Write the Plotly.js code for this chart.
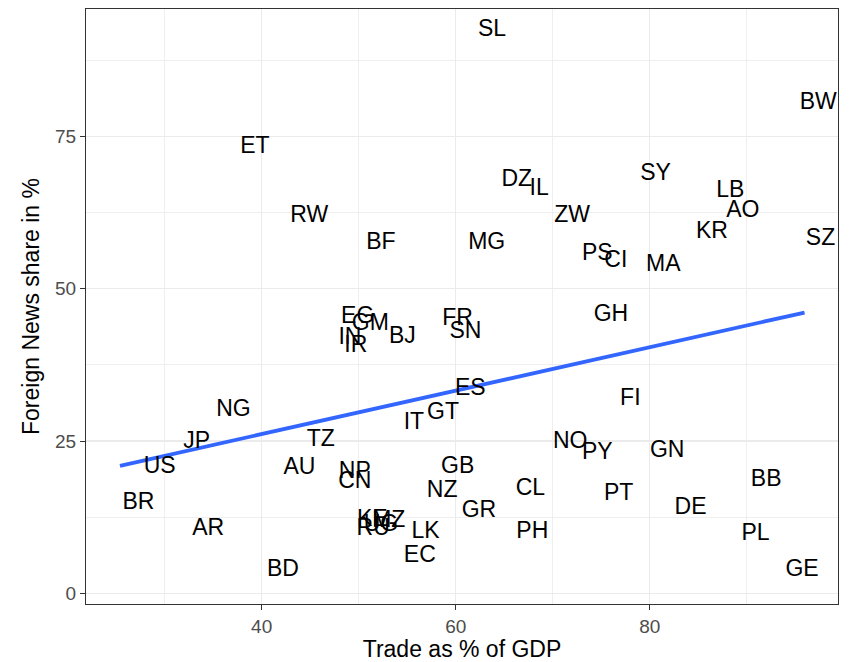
<!DOCTYPE html>
<html>
<head>
<meta charset="utf-8">
<script src="https://cdn.plot.ly/plotly-3.0.1.min.js"></script>
<style>html,body{margin:0;padding:0;background:#fff;}#chart{width:851px;height:662px;}</style>
</head>
<body>
<div id="chart"></div>
<script>
const countries = ["SL","BW","ET","DZ","IL","SY","LB","AO","RW","ZW","KR","SZ","BF","MG","PS","CI","MA","GH","EG","GM","IN","IR","BJ","FR","SN","ES","IT","GT","NG","JP","TZ","US","NO","PY","GN","FI","AU","NP","CN","GB","NZ","CL","PT","BB","BR","DE","GR","AR","KE","RU","UG","MZ","LK","PH","PL","EC","BD","GE"];
const tradePct = [63.75,97.36,39.3,66.3,68.6,80.6,88.3,89.6,44.9,72.0,86.4,97.6,52.3,63.2,74.6,76.5,81.4,76.0,49.9,51.2,49.1,49.7,54.5,60.2,61.0,61.5,55.7,58.7,37.1,33.3,46.1,29.5,71.8,74.6,81.8,78.0,43.9,49.6,49.6,60.2,58.6,67.7,76.8,92.0,27.3,84.2,62.4,34.5,51.4,51.5,52.3,53.1,56.9,67.9,90.9,56.3,42.2,95.7];
const foreignNewsPct = [92.4,80.4,73.2,67.8,66.3,68.8,66.0,62.7,61.9,61.9,59.3,58.1,57.4,57.4,55.6,54.5,53.8,45.6,45.3,44.2,41.9,40.6,42.0,45.0,42.9,33.5,28.0,29.6,30.1,24.8,25.2,20.7,24.8,23.0,23.4,31.9,20.6,19.9,18.3,20.7,16.8,17.1,16.3,18.6,14.8,14.0,13.5,10.6,12.0,10.6,11.2,11.9,10.1,10.1,9.8,6.1,3.8,3.8];
const fitX = [25.4, 95.95];
const fitY = [20.95, 46.1];
const xTicks = [40, 60, 80];
const yTicks = [0, 25, 50, 75];

const FONT = "Liberation Sans, Arial, Helvetica, sans-serif";

const traces = [
  {
    type: "scatter", mode: "lines", x: fitX, y: fitY,
    line: {color: "#3366FF", width: 3.8}, hoverinfo: "skip", showlegend: false
  },
  {
    type: "scatter", mode: "text", x: tradePct, y: foreignNewsPct, text: countries,
    textposition: "middle center",
    textfont: {family: FONT, size: 23, color: "#000000"},
    showlegend: false, cliponaxis: false
  }
];

const axisCommon = {
  showgrid: true, gridcolor: "#EBEBEB", gridwidth: 1.4,
  zeroline: false, showline: true, mirror: true, linecolor: "#333333", linewidth: 1.1,
  ticks: "outside", ticklen: 5, tickwidth: 1.1, tickcolor: "#333333",
  tickfont: {family: FONT, size: 19, color: "#4D4D4D"}
};

const layout = {
  width: 851, height: 662,
  margin: {l: 86, r: 13, t: 9, b: 58},
  paper_bgcolor: "#ffffff", plot_bgcolor: "#ffffff",
  showlegend: false,
  xaxis: Object.assign({}, axisCommon, {
    range: [21.9, 99.4], tickmode: "array", tickvals: xTicks, ticktext: xTicks.map(String),
    minor: {dtick: 10, tick0: 0, showgrid: true, gridcolor: "#EBEBEB", gridwidth: 0.8, ticks: ""},
    title: {text: "Trade as % of GDP", font: {family: FONT, size: 23, color: "#000000"}, standoff: 10}
  }),
  yaxis: Object.assign({}, axisCommon, {
    range: [-1.72, 95.9], tickmode: "array", tickvals: yTicks, ticktext: yTicks.map(String),
    minor: {dtick: 12.5, tick0: 0, showgrid: true, gridcolor: "#EBEBEB", gridwidth: 0.8, ticks: ""},
    title: {text: "Foreign News share in %", font: {family: FONT, size: 23, color: "#000000"}, standoff: 8}
  })
};

Plotly.newPlot("chart", traces, layout, {displayModeBar: false, staticPlot: true});
</script>
</body>
</html>
